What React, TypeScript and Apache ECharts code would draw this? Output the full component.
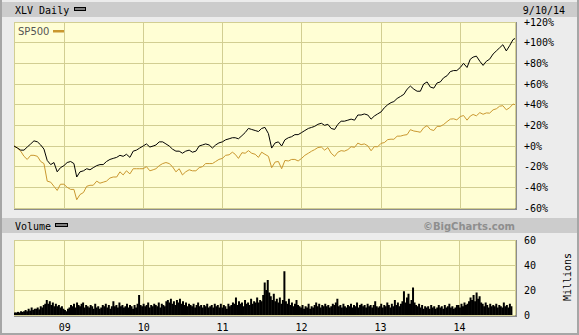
import React, { useEffect, useRef } from "react";
import * as echarts from "echarts";

const startDate = "2008-05-16";
const endDate = "2014-09-10";
const mono = '"DejaVu Sans Mono", monospace';

// Semi-monthly points (1st and 16th) of the % change since the start date
const sp500Pct = [
  // 2008 (May 16, Jun..Dec)
  0, -2, -5, -10, -13, -9, -9, -10, -15, -17, -34, -35, -39, -43, -37,
  // 2009
  -37, -40, -42, -42, -52, -47, -45, -39, -38, -38, -34, -36, -35, -34, -31, -30, -30, -25, -28, -24, -27, -22, -22, -22,
  // 2010
  -22, -20, -24, -23, -22, -19, -17, -16, -17, -20, -25, -22, -28, -25, -23, -24, -24, -21, -20, -17, -17, -17, -15, -13,
  // 2011
  -12, -9, -8.5, -6, -8, -12, -6.5, -7, -4.5, -7, -8, -11, -6, -8, -10, -21, -15.5, -15, -22, -14, -14.5, -13, -13, -14.5,
  // 2012
  -12, -9, -7, -5, -3.5, -1.5, -1, -4, -1.5, -7, -10, -6, -4.5, -5, -3.5, -0.7, -1.3, 2.8, 1.3, 2, 0.2, -4.6, -0.6, -0.8,
  // 2013
  2.6, 3.3, 6.2, 6.6, 6.5, 9.5, 9.6, 10.5, 11, 15.8, 14.5, 14, 13.3, 17.6, 19.7, 16, 15, 19, 19, 20.8, 23.6, 26, 26.3, 25.3,
  // 2014 (Jan..Aug, Sep 1, Sep 10)
  28.5, 29.5, 25, 29, 30.5, 29.2, 32.3, 30.7, 32, 31.8, 35, 36, 38.5, 39, 35, 37, 40.6, 40,
];

const xlvPct = [
  // 2008
  0, -2, -4, -4, -1, 2, 5, 4, 1, -3, -14, -18, -16, -25, -21,
  // 2009
  -19, -16, -15, -17, -30, -25, -24, -22, -23, -21, -19, -18, -18, -15, -13, -12, -11, -9, -10, -8, -11, -5, -4, -2,
  // 2010
  0, 2, -1, 0, 1, 4, 4, 2, 0, -3, -5, -5, -7, -5, -4, -6, -5, 0, 1, 2, 1, -2, 1, 3,
  // 2011
  4, 6, 7, 8, 8, 7, 10, 13, 17, 16, 15, 14, 17, 18, 12, -2, 3, 4, 0, 6, 8, 9, 11, 11,
  // 2012
  13, 15, 17, 18, 19, 21, 22, 20, 21, 17, 16, 21, 24, 24, 25, 26, 25, 30, 30, 31, 30, 26, 29, 31,
  // 2013
  33, 37, 40, 42, 43, 46, 48, 50, 55, 58, 55, 53, 53, 60, 62, 57, 56, 61, 62, 66, 68, 72, 73, 73,
  // 2014
  76, 80, 76, 84, 86, 87, 82, 78, 82, 84, 89, 92, 95, 98, 92, 97, 103, 104,
];

// Weekly peak volume, millions, starting at startDate
const volumeWeekly = [
  // 2008
  2, 2, 2.5, 2, 3, 2.5, 3, 4, 3, 5, 3.5, 6, 4, 5, 5, 6, 4.5, 7, 6, 8, 9, 12, 9, 11, 8, 10, 7, 9, 7, 8, 6, 7, 5,
  // 2009
  4, 3, 5, 6, 8, 7, 9, 6, 10, 8, 7, 9, 10, 6, 8, 7, 6, 8, 7, 5, 9, 6, 7, 5, 6, 8, 7, 9, 6, 8, 5, 7,
  11, 7, 8, 6, 10, 7, 8, 6, 7, 9, 6, 8, 7, 5, 8, 6, 9, 16, 8, 7,
  // 2010
  9, 7, 8, 10, 6, 8, 7, 9, 8, 7, 10, 6, 9, 8, 7, 11, 12, 10, 13, 9, 11, 8, 12, 10, 13, 9, 11, 8, 10, 7, 9, 8,
  7, 9, 6, 8, 10, 7, 8, 6, 8, 7, 9, 6, 7, 8, 6, 9, 7, 8, 6, 9,
  // 2011
  6, 8, 7, 5, 9, 7, 8, 10, 9, 14, 8, 11, 9, 10, 7, 12, 9, 10, 8, 13, 9, 11, 10, 14, 10, 12, 11, 16, 26, 20, 28, 18,
  15, 12, 17, 11, 13, 10, 14, 9, 12, 35, 11, 9, 13, 8, 10, 7, 9, 12, 8, 7,
  // 2012
  6, 8, 5, 7, 6, 9, 5, 7, 6, 8, 10, 7, 9, 6, 8, 7, 9, 7, 8, 6, 7, 9, 8, 10, 13, 7, 8, 6, 9, 7, 6, 8,
  7, 9, 6, 8, 7, 10, 6, 8, 9, 7, 8, 6, 9, 7, 8, 6, 8, 11, 7, 6,
  // 2013
  7, 9, 6, 8, 7, 10, 8, 6, 9, 7, 12, 8, 10, 7, 9, 11, 19, 10, 14, 17, 9, 12, 22, 10, 8, 7, 9, 6, 8, 5, 7, 6,
  7, 5, 8, 6, 7, 5, 6, 8, 6, 7, 5, 8, 6, 7, 9, 6, 7, 5, 6, 8,
  // 2014
  8, 6, 9, 7, 10, 8, 9, 11, 14, 12, 16, 11, 18, 13, 15, 10, 9, 7, 10, 8, 6, 9, 7, 8, 7, 9, 6, 8, 7, 6, 10, 7,
  8, 6, 9, 7,
];

const pctTicks = [-60, -40, -20, 0, 20, 40, 60, 80, 100, 120];
const volumeTicks = [0, 20, 40, 60];

function semiMonthlyDates(): string[] {
  const out = [startDate];
  for (let y = 2008; y <= 2014; y++) {
    for (let m = 1; m <= 12; m++) {
      if (y === 2008 && m < 6) continue;
      if (y === 2014 && m > 8) break;
      const mm = String(m).padStart(2, "0");
      out.push(`${y}-${mm}-01`, `${y}-${mm}-16`);
    }
  }
  out.push("2014-09-01", endDate);
  return out;
}

export default function App() {
  const ref = useRef<HTMLDivElement>(null);
  useEffect(() => {
    if (!ref.current) return;
    const chart = echarts.init(ref.current, null, { renderer: "svg" });
    const dates = semiMonthlyDates();
    const start = new Date(2008, 4, 16).getTime();
    const week = 7 * 86400000;
    const spData = dates.map((d, i) => [d, sp500Pct[i]]);
    const xlvData = dates.map((d, i) => [d, xlvPct[i]]);
    const volData = volumeWeekly.map((v, i) => [start + i * week, v]);
    const gridColor = "#d2ce92";
    const plotBg = "#fffed4";
    const yearFmt = (value: number) => {
      const d = new Date(value);
      return d.getMonth() === 0 && d.getDate() === 1 ? String(d.getFullYear()).slice(2) : "";
    };
    const timeAxisBase = {
      type: "time",
      min: startDate,
      max: endDate,
      minInterval: 360 * 86400000,
      maxInterval: 370 * 86400000,
      axisLine: { show: false },
      axisTick: { show: false },
      splitLine: { show: true, lineStyle: { color: gridColor, width: 1 } },
    };
    const txt = (x: number, y: number, text: string, font: string, fill: string, align = "left", extra: any = {}) => ({
      type: "text",
      x,
      y,
      ...extra,
      style: { text, font, fill, align, verticalAlign: "middle", textAlign: align, textVerticalAlign: "middle" },
    });
    const rect = (x: number, y: number, w: number, h: number, fill: string) => ({
      type: "rect",
      shape: { x, y, width: w, height: h },
      style: { fill },
      silent: true,
    });
    chart.setOption({
      animation: false,
      backgroundColor: "#ececec",
      grid: [
        { left: 14, top: 22, width: 501, height: 186, show: true, backgroundColor: plotBg, borderWidth: 0 },
        { left: 14, top: 240, width: 501, height: 75, show: true, backgroundColor: plotBg, borderWidth: 0 },
      ],
      xAxis: [
        { ...timeAxisBase, gridIndex: 0, axisLabel: { show: false } },
        {
          ...timeAxisBase,
          gridIndex: 1,
          axisLabel: {
            show: true,
            formatter: yearFmt,
            fontFamily: mono,
            fontSize: 10,
            color: "#000",
            margin: 7,
            showMinLabel: false,
            showMaxLabel: false,
          },
        },
      ],
      yAxis: [
        {
          type: "value",
          gridIndex: 0,
          position: "right",
          min: pctTicks[0],
          max: pctTicks[pctTicks.length - 1],
          interval: 20,
          axisLine: { show: false },
          axisTick: { show: false },
          splitLine: { show: true, lineStyle: { color: gridColor } },
          axisLabel: {
            formatter: (v: number) => (v >= 0 ? "+" : "") + v + "%",
            fontFamily: mono,
            fontSize: 10,
            color: "#000",
            margin: 9,
            padding: [2, 0, 0, 0],
          },
        },
        {
          type: "value",
          gridIndex: 1,
          position: "right",
          min: volumeTicks[0],
          max: volumeTicks[volumeTicks.length - 1],
          interval: 20,
          axisLine: { show: false },
          axisTick: { show: false },
          splitLine: { show: true, lineStyle: { color: gridColor } },
          axisLabel: { fontFamily: mono, fontSize: 10, color: "#000", margin: 9, padding: [2, 0, 0, 0] },
        },
      ],
      series: [
        {
          name: "SP500",
          type: "line",
          xAxisIndex: 0,
          yAxisIndex: 0,
          data: spData,
          showSymbol: false,
          symbol: "none",
          lineStyle: { color: "#c9972f", width: 1 },
          z: 3,
        },
        {
          name: "XLV",
          type: "line",
          xAxisIndex: 0,
          yAxisIndex: 0,
          data: xlvData,
          showSymbol: false,
          symbol: "none",
          lineStyle: { color: "#000", width: 1 },
          z: 4,
        },
        {
          name: "Volume",
          type: "bar",
          xAxisIndex: 1,
          yAxisIndex: 1,
          data: volData,
          barWidth: 2,
          itemStyle: { color: "#000" },
        },
      ],
      graphic: [
        rect(0, 0, 2, 335, "#a6a6a6"),
        rect(577, 0, 2, 335, "#a6a6a6"),
        rect(0, 333, 579, 2, "#a6a6a6"),
        rect(2, 2, 575, 15, "#cccccc"),
        rect(2, 218, 575, 15, "#cccccc"),
        rect(515, 22, 2, 188, "#8c8c8c"),
        rect(14, 208, 503, 2, "#8c8c8c"),
        rect(515, 240, 2, 77, "#8c8c8c"),
        rect(14, 315, 503, 2, "#8c8c8c"),
        txt(15, 10, "XLV Daily", `10px ${mono}`, "#000"),
        rect(74, 7, 12, 4, "#000"),
        rect(75, 8.5, 10, 1, "#ffffff"),
        txt(565, 10, "9/10/14", `10px ${mono}`, "#000", "right"),
        txt(18, 31, "SP500", '10px "DejaVu Sans", sans-serif', "#555"),
        rect(53, 30, 11, 2.5, "#c9972f"),
        txt(15, 226, "Volume", `10px ${mono}`, "#000"),
        rect(55, 223, 13, 4, "#000"),
        rect(56, 224.5, 11, 1, "#ffffff"),
        txt(515, 226, "©BigCharts.com", 'bold 10px "DejaVu Sans", sans-serif', "#8e8e8e", "right"),
        txt(567, 277, "Millions", `10px ${mono}`, "#000", "center", { rotation: Math.PI / 2 }),
      ],
    });
    return () => chart.dispose();
  }, []);
  return <div ref={ref} style={{ position: "fixed", left: 0, top: 0, width: 579, height: 335 }} />;
}
